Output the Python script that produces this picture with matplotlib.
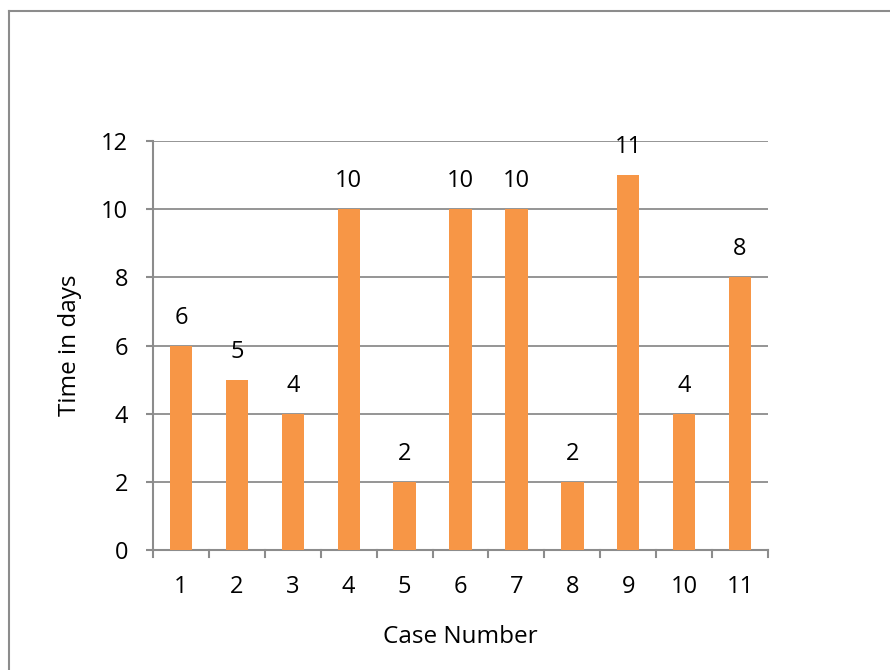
import matplotlib
matplotlib.use("Agg")
import matplotlib.pyplot as plt
from matplotlib.lines import Line2D

cases = ["1", "2", "3", "4", "5", "6", "7", "8", "9", "10", "11"]
days = [6, 5, 4, 10, 2, 10, 10, 2, 11, 4, 8]
y_ticks = [0, 2, 4, 6, 8, 10, 12]

plt.rcParams['font.family'] = ['Open Sans', 'DejaVu Sans']

W, H, DPI = 890, 670, 100
FS = 17
GREY = "#8c8c8c"

fig = plt.figure(figsize=(W / DPI, H / DPI), dpi=DPI)

# chart frame (left and top edges)
fig.add_artist(Line2D([8.5 / W, 8.5 / W], [0, 1 - 10.5 / H], transform=fig.transFigure,
                      color=GREY, lw=1.5))
fig.add_artist(Line2D([8.5 / W, 1], [1 - 10.5 / H, 1 - 10.5 / H], transform=fig.transFigure,
                      color=GREY, lw=1.5))

left, right, top, bottom = 153, 768, 141, 550
ax = fig.add_axes([left / W, 1 - bottom / H, (right - left) / W, (bottom - top) / H])

x = list(range(len(cases)))
ax.bar(x, days, width=0.4, color="#F79646", zorder=3)

for xi, v in zip(x, days):
    ax.annotate(str(v), (xi, v), xytext=(0, 28), textcoords="offset pixels",
                ha="center", va="center", fontsize=FS, color="black")

ax.set_xlim(-0.5, len(cases) - 0.5)
ax.set_ylim(0, 12)
ax.set_yticks(y_ticks)
ax.set_yticklabels([str(t) for t in y_ticks], fontsize=FS)
ax.set_xticks(x)
ax.set_xticklabels(cases, fontsize=FS)
ax.tick_params(axis="x", length=0, pad=18)
ax.tick_params(axis="y", length=5, width=1.5, color=GREY, pad=13)

# category boundary ticks
for b in [i - 0.5 for i in range(len(cases) + 1)]:
    ax.plot([b, b], [0, -0.22], color=GREY, lw=1.5, clip_on=False, zorder=4)

ax.grid(axis="y", color=GREY, lw=1.3, zorder=0)
for s in ["top", "right"]:
    ax.spines[s].set_visible(False)
for s in ["left", "bottom"]:
    ax.spines[s].set_color(GREY)
    ax.spines[s].set_linewidth(1.5)

ax.set_xlabel("Case Number", fontsize=FS + 0.5, va="center")
ax.set_ylabel("Time in days", fontsize=FS + 0.5, va="center")
ax.xaxis.set_label_coords(0.5, (550 - 637) / (bottom - top))
ax.yaxis.set_label_coords((70 - left) / (right - left), 0.5)

fig.savefig("out.png", dpi=DPI)
